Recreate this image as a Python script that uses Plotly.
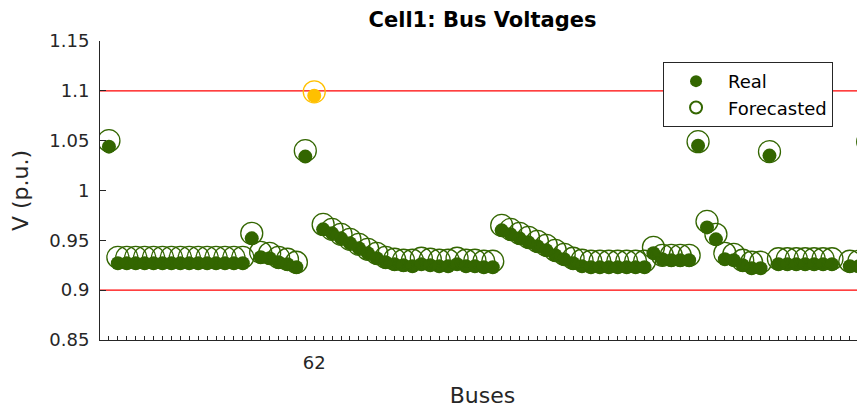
import plotly.graph_objects as go

# ---- data ----
bus_index = list(range(1, 87))
real_v = [1.044,
          0.927, 0.927, 0.927, 0.927, 0.927, 0.927, 0.927, 0.927, 0.927, 0.927,
          0.927, 0.927, 0.927, 0.927, 0.927,
          0.952, 0.933, 0.932, 0.928, 0.926, 0.923,
          1.034, 1.095,
          0.961, 0.957, 0.952, 0.947, 0.942, 0.937, 0.932, 0.928, 0.926, 0.925,
          0.924, 0.926, 0.925, 0.924, 0.924, 0.926, 0.924, 0.924, 0.923, 0.923,
          0.960, 0.956, 0.952, 0.948, 0.944, 0.940, 0.935, 0.931, 0.927, 0.924,
          0.923, 0.923, 0.923, 0.923, 0.923, 0.923, 0.923,
          0.937, 0.931, 0.930, 0.930, 0.930,
          1.045, 0.963, 0.951, 0.931, 0.930, 0.925, 0.922, 0.922,
          1.035,
          0.926, 0.926, 0.926, 0.926, 0.926, 0.926, 0.926,
          None, 0.924, 0.924,
          1.045]
forecast_v = [1.050,
              0.933, 0.933, 0.933, 0.933, 0.933, 0.933, 0.933, 0.933, 0.933, 0.933,
              0.933, 0.933, 0.933, 0.933, 0.933,
              0.957, 0.938, 0.937, 0.933, 0.931, 0.928,
              1.040, 1.099,
              0.966, 0.961, 0.956, 0.951, 0.946, 0.941, 0.937, 0.933, 0.931, 0.930,
              0.930, 0.932, 0.931, 0.930, 0.930, 0.932, 0.930, 0.930, 0.929, 0.929,
              0.965, 0.961, 0.957, 0.953, 0.949, 0.945, 0.940, 0.936, 0.932, 0.930,
              0.929, 0.929, 0.929, 0.929, 0.929, 0.929, 0.929,
              0.943, 0.935, 0.935, 0.935, 0.935,
              1.049, 0.969, 0.956, 0.937, 0.936, 0.930, 0.928, 0.928,
              1.039,
              0.9315, 0.9315, 0.9315, 0.9315, 0.9315, 0.9315, 0.9315,
              None, 0.929, 0.929,
              1.049]
flagged_index = [24]          # position of the flagged bus on the axis
flagged_label = ["62"]        # its bus name
limits = [0.9, 1.1]
y_ticks = [0.85, 0.9, 0.95, 1.0, 1.05, 1.1, 1.15]
y_tick_labels = ["0.85", "0.9", "0.95", "1", "1.05", "1.1", "1.15"]

GREEN = "#336600"
YELLOW = "#FFC000"
AXC = "#262626"
FONT = "DejaVu Sans"

colors = [YELLOW if b in flagged_index else GREEN for b in bus_index]
tick_text = [flagged_label[flagged_index.index(b)] if b in flagged_index else "" for b in bus_index]

fig = go.Figure()
fig.add_trace(go.Scatter(
    x=bus_index, y=real_v, mode="markers", name="Real",
    marker=dict(symbol="circle", size=14, color=colors, line=dict(width=0)),
))
fig.add_trace(go.Scatter(
    x=bus_index, y=forecast_v, mode="markers", name="Forecasted",
    marker=dict(symbol="circle-open", size=22, color=colors, line=dict(width=1.3, color=colors)),
))

for v in limits:
    fig.add_shape(type="line", xref="paper", x0=0, x1=1, yref="y", y0=v, y1=v,
                  line=dict(color="#FF0000", width=1.2), layer="below")

# page body has an 8px margin: figure is offset by (8, 8)
fig.update_layout(
    width=857, height=400,
    margin=dict(l=92, r=0, t=33, b=66),
    paper_bgcolor="white", plot_bgcolor="white",
    font=dict(family=FONT, color=AXC),
    title=dict(text="<b>Cell1: Bus Voltages</b>", x=0.5, xref="paper", xanchor="center",
               y=1 - 12 / 400, yref="container", yanchor="middle",
               font=dict(family=FONT, size=21, color="black")),
    showlegend=True,
    legend=dict(x=0.736, y=0.93, xanchor="left", yanchor="top",
                bgcolor="white", bordercolor=AXC, borderwidth=1,
                font=dict(family=FONT, size=18, color="black"),
                itemwidth=54, itemsizing="constant", tracegroupgap=0),
)
fig.update_xaxes(
    range=[0, 85.7], tickmode="array", tickvals=bus_index, ticktext=tick_text,
    ticks="inside", ticklen=4, tickwidth=1, tickcolor=AXC,
    showline=True, linecolor=AXC, linewidth=1, showgrid=False, zeroline=False,
    tickfont=dict(family=FONT, size=18, color=AXC), ticklabelstandoff=6,
    title=dict(text="Buses", font=dict(family=FONT, size=22, color=AXC), standoff=20),
)
fig.update_yaxes(
    range=[0.85, 1.15], tickmode="array", tickvals=y_ticks, ticktext=y_tick_labels,
    ticks="inside", ticklen=6, tickwidth=1, tickcolor=AXC,
    showline=True, linecolor=AXC, linewidth=1, showgrid=False, zeroline=False,
    tickfont=dict(family=FONT, size=18, color=AXC), ticklabelstandoff=6,
    title=dict(text="V (p.u.)", font=dict(family=FONT, size=22, color=AXC), standoff=14),
)

fig.write_html("out.html")
